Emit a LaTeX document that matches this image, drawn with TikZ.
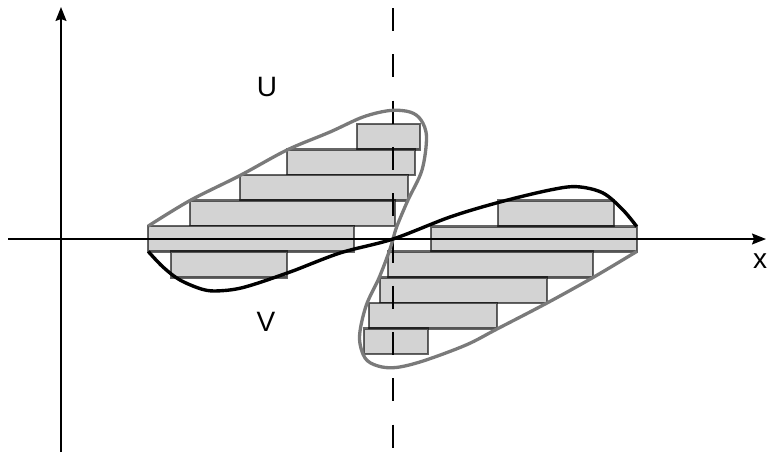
\documentclass[tikz,border=0pt]{standalone}
\usepackage{fontspec}
\setmainfont{Liberation Sans}
\usetikzlibrary{arrows.meta}
\definecolor{boxfill}{HTML}{D3D3D3}
\definecolor{loopgray}{HTML}{7A7A7A}
\begin{document}
\begin{tikzpicture}[x=1pt,y=-1pt,
  bar/.style={fill=boxfill,draw=black,draw opacity=0.6,line width=2.2pt},
  axisline/.style={line width=1.4pt,-{Stealth[length=14pt,width=11pt,inset=2pt]}},
  loopline/.style={draw=loopgray,line width=3.3pt},
  curveline/.style={draw=black,line width=3.4pt},
  lbl/.style={font=\fontsize{28}{30}\selectfont,inner sep=0pt}]
\useasboundingbox (0,0) rectangle (767,456);
% rectangles upper-left
\draw[bar] (356.7,124) rectangle (420,149.5);
\draw[bar] (286.7,149.5) rectangle (415.3,175);
\draw[bar] (240,175) rectangle (407.7,200.5);
\draw[bar] (190,200.5) rectangle (395,226);
\draw[bar] (148.3,226) rectangle (354,251.5);
\draw[bar] (170.7,251.5) rectangle (286.7,277.5);
% rectangles lower-right
\draw[bar] (497.7,200.5) rectangle (614,226.5);
\draw[bar] (431,226.5) rectangle (636.7,251.5);
\draw[bar] (387.7,251.5) rectangle (593.3,277.5);
\draw[bar] (380,277.5) rectangle (546.7,303);
\draw[bar] (369,303) rectangle (496.7,328.5);
\draw[bar] (364.3,328.5) rectangle (428.3,354);
% axes
\coordinate (xs) at (8,239);
\coordinate (xe) at (766,239);
\coordinate (ys) at (61,452);
\coordinate (ye) at (61,7);
\draw[axisline] (xs) -- (xe);
\draw[axisline] (ys) -- (ye);
% dashed vertical line
\coordinate (ds) at (393,8);
\coordinate (de) at (393,448);
\draw[line width=2pt,dash pattern=on 23pt off 23.3pt] (ds) -- (de);
% gray figure-eight loops
\draw[loopline] plot[smooth,tension=0.55] coordinates {
 (148.3,226) (190,200.5) (240,175.5) (287,150) (330,132) (363,117) (390,110.5)
 (410,112) (421,120) (426.5,137) (422,170) (408,200) (397,226) (393,239)
 (389,252) (379,278) (366,306) (359.5,337) (365,358) (378,366) (396,367.5)
 (423,361) (466,345) (497,329) (547,303) (593,277.5) (636.7,251.5)};
% black curve
\draw[curveline] plot[smooth,tension=0.55] coordinates {
 (148.3,251.5) (163,267) (180,280) (203,289.5) (220,290.8) (245,287) (290,272)
 (340,253) (393,239) (450,217) (500,202) (550,190) (577,186.7) (603,193)
 (623,210) (636.7,226.5)};
% labels
\node[lbl] (U) at (267,87) {U};
\node[lbl] (V) at (266,322) {V};
\node[lbl] (X) at (760,261) {x};
\end{tikzpicture}
\end{document}
